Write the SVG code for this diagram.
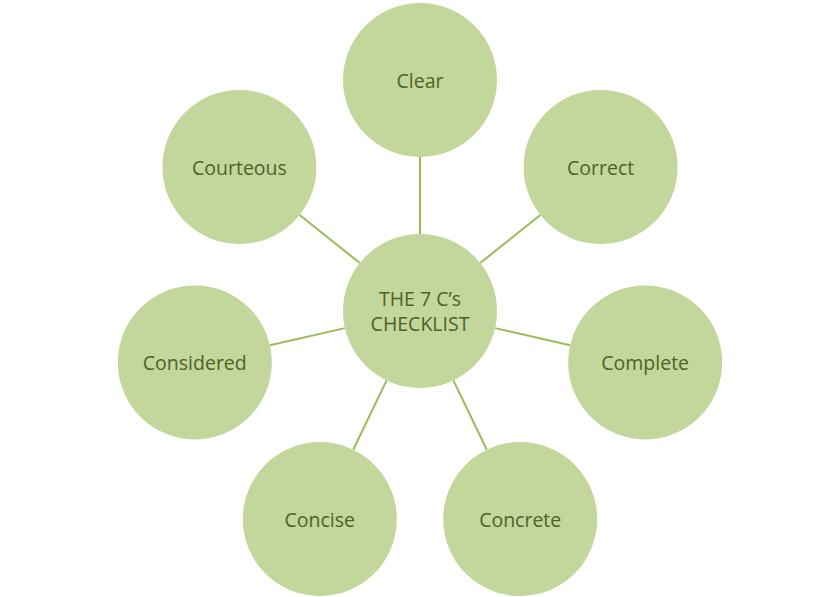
<svg xmlns="http://www.w3.org/2000/svg" width="839" height="597" viewBox="0 0 839 597">
<style>
.n{fill:#C3D69B;}
.t{font-family:"Open Sans","Liberation Sans",sans-serif;font-size:19.5px;fill:#4F6228;text-anchor:middle;dominant-baseline:central;}
.c{stroke:#9BBB59;stroke-width:2;fill:none;}
</style>
<rect width="839" height="597" fill="#FFFFFF"/>
<g id="connectors">
<line class="c" x1="420" y1="234" x2="420" y2="157"/>
<line class="c" x1="480.2" y1="263" x2="540.4" y2="215"/>
<line class="c" x1="495.1" y1="328.1" x2="570.1" y2="345.3"/>
<line class="c" x1="453.4" y1="380.4" x2="486.8" y2="449.8"/>
<line class="c" x1="386.6" y1="380.4" x2="353.2" y2="449.8"/>
<line class="c" x1="344.9" y1="328.1" x2="269.9" y2="345.3"/>
<line class="c" x1="359.8" y1="263" x2="299.6" y2="215"/>
</g>
<g id="center"><circle class="n" cx="420" cy="311" r="77"/><text class="t" x="420" y="298">THE 7 C’s</text><text class="t" x="420" y="323">CHECKLIST</text></g>
<g id="clear"><circle class="n" cx="420" cy="80" r="77"/><text class="t" x="420" y="80">Clear</text></g>
<g id="correct"><circle class="n" cx="600.6" cy="167" r="77"/><text class="t" x="600.6" y="167">Correct</text></g>
<g id="complete"><circle class="n" cx="645.2" cy="362.4" r="77"/><text class="t" x="645.2" y="362.4">Complete</text></g>
<g id="concrete"><circle class="n" cx="520.2" cy="519.1" r="77"/><text class="t" x="520.2" y="519.1">Concrete</text></g>
<g id="concise"><circle class="n" cx="319.8" cy="519.1" r="77"/><text class="t" x="319.8" y="519.1">Concise</text></g>
<g id="considered"><circle class="n" cx="194.8" cy="362.4" r="77"/><text class="t" x="194.8" y="362.4">Considered</text></g>
<g id="courteous"><circle class="n" cx="239.4" cy="167" r="77"/><text class="t" x="239.4" y="167">Courteous</text></g>
</svg>
